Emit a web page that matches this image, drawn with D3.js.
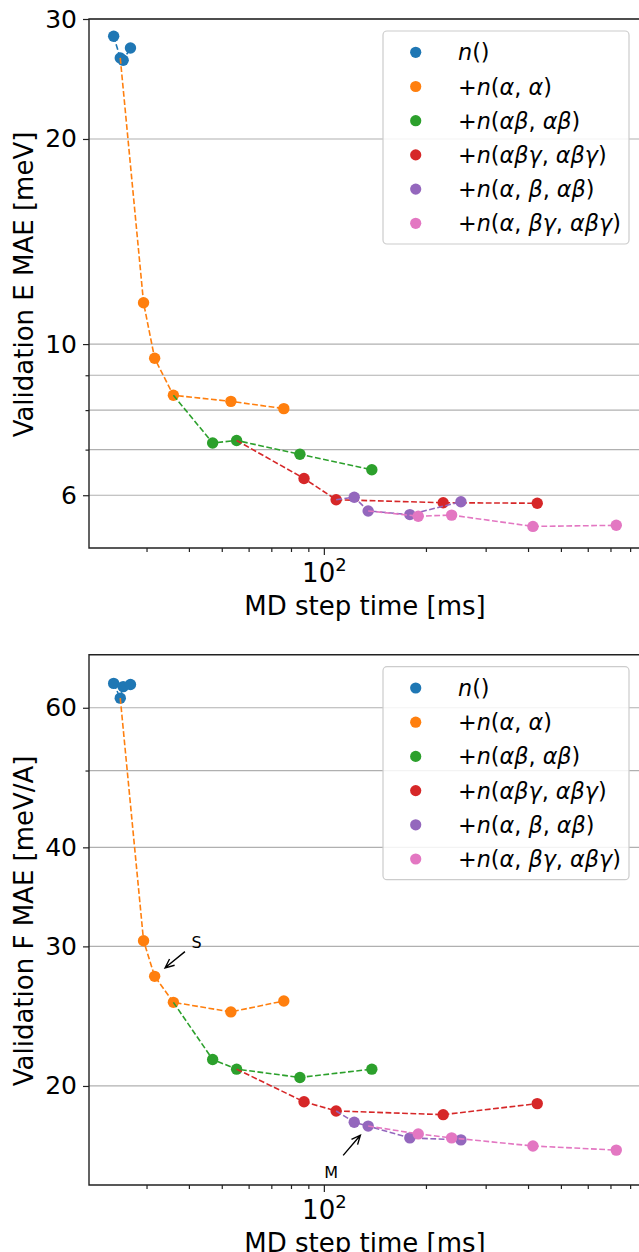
<!DOCTYPE html>
<html>
<head>
<meta charset="utf-8">
<script src="https://cdn.jsdelivr.net/npm/d3@7"></script>
<style>
  html, body { margin: 0; padding: 0; background: #fff; }
  svg { display: block; font-family: "DejaVu Sans", sans-serif; }
</style>
</head>
<body>
<svg id="chart" width="639" height="1252"></svg>
<script>
// ---------- data ----------
const seriesNames = ["n()", "+n(α, α)", "+n(αβ, αβ)", "+n(αβγ, αβγ)", "+n(α, β, αβ)", "+n(α, βγ, αβγ)"];
const seriesColors = ["#1f77b4", "#ff7f0e", "#2ca02c", "#d62728", "#9467bd", "#e377c2"];
// parent point each dashed line starts from: [series index, point index]
const seriesParents = [null, [0, 1], [1, 2], [2, 1], [3, 1], [4, 1]];

// MD step time [ms]
const timeN  = [24.0, 25.1, 25.6, 26.9];
const timeA  = [29.4, 31.7, 36.0, 53.2, 76.2];
const timeB  = [47.0, 55.3, 85.0, 138.5];
const timeC  = [87.4, 108.7, 224.8, 425.8];
const timeD  = [122.9, 135.1, 179.3, 253.6];
const timeE  = [189.8, 238.1, 413.5, 728.2];

// Validation E MAE [meV]
const energyN = [28.3, 26.3, 26.1, 27.2];
const energyA = [11.5, 9.53, 8.41, 8.24, 8.04];
const energyB = [7.16, 7.22, 6.89, 6.54];
const energyC = [6.35, 5.91, 5.85, 5.84];
const energyD = [5.96, 5.69, 5.62, 5.87];
const energyE = [5.59, 5.61, 5.40, 5.42];

// Validation F MAE [meV/A]
const forceN = [64.4, 61.7, 63.8, 64.2];
const forceA = [30.5, 27.5, 25.5, 24.8, 25.6];
const forceB = [21.6, 21.0, 20.5, 21.0];
const forceC = [19.1, 18.6, 18.4, 19.0];
const forceD = [18.0, 17.8, 17.2, 17.1];
const forceE = [17.4, 17.2, 16.8, 16.6];

const timeSeries = [timeN, timeA, timeB, timeC, timeD, timeE];
const energySeries = [energyN, energyA, energyB, energyC, energyD, energyE];
const forceSeries = [forceN, forceA, forceB, forceC, forceD, forceE];

// axis tick values
const xDomain = [20.3, 885];
const xMajorTicks = [100];
const xMinorTicks = [30, 40, 50, 60, 70, 80, 90, 200, 300, 400, 500, 600, 700, 800];

const eDomain = [5.02, 30];
const eLabeledTicks = [6, 10, 20, 30];
const eMinorTicks = [7, 8, 9];

const fDomain = [15.0, 70];
const fLabeledTicks = [20, 30, 40, 60];
const fMinorTicks = [50];

// annotations: [label, series index, point index, text dx, text dy, arrow start dx, dy, shrink]
const forceAnnotations = [
  ["S", 1, 1, 42, -33, 30.3, -24.7, 13.5],
  ["M", 4, 1, -37, 47, -25, 29.3, 12]
];

// ---------- drawing ----------
const svg = d3.select("#chart");
const left = 89, right = 645;

const x = d3.scaleLog().domain(xDomain).range([left, right]);

function mathLabel(sel, str) {
  for (const ch of str) {
    const it = "nαβγ".includes(ch);
    sel.append("tspan").attr("font-style", it ? "italic" : "normal").text(ch);
  }
}

function drawPanel(cfg) {
  const g = svg.append("g");
  const y = d3.scaleLog().domain(cfg.domain).range([cfg.bottom, cfg.top]);

  // grid
  const gridVals = cfg.labeled.concat(cfg.minor);
  g.append("g").selectAll("line").data(gridVals).join("line")
    .attr("x1", left).attr("x2", right)
    .attr("y1", d => y(d)).attr("y2", d => y(d))
    .attr("stroke", "#b0b0b0").attr("stroke-width", 1.2);

  // series
  const clipId = "clip" + Math.round(cfg.top);
  svg.append("clipPath").attr("id", clipId).append("rect")
    .attr("x", left).attr("y", cfg.top).attr("width", right - left).attr("height", cfg.bottom - cfg.top);
  const plot = g.append("g").attr("clip-path", `url(#${clipId})`);
  const line = d3.line().x(d => x(d[0])).y(d => y(d[1]));

  seriesNames.forEach((name, i) => {
    const pts = timeSeries[i].map((t, k) => [t, cfg.values[i][k]]);
    const par = seriesParents[i];
    const linePts = par ? [[timeSeries[par[0]][par[1]], cfg.values[par[0]][par[1]]]].concat(pts) : pts;
    plot.append("path").datum(linePts).attr("d", line)
      .attr("fill", "none").attr("stroke", seriesColors[i])
      .attr("stroke-width", 1.6).attr("stroke-dasharray", "5.8,2.5");
    plot.append("g").selectAll("circle").data(pts).join("circle")
      .attr("cx", d => x(d[0])).attr("cy", d => y(d[1])).attr("r", 5.7)
      .attr("fill", seriesColors[i]);
  });

  // y axis
  const yMajor = d3.axisLeft(y).tickValues(cfg.labeled).tickFormat(d3.format("d"))
    .tickSize(6).tickSizeOuter(0).tickPadding(6);
  const ya = g.append("g").attr("transform", `translate(${left},0)`).call(yMajor);
  ya.selectAll("text").attr("font-size", 25).attr("fill", "#000").attr("font-family", "DejaVu Sans");
  ya.select(".domain").remove();
  const yMinor = d3.axisLeft(y).tickValues(cfg.minor).tickFormat("").tickSize(3.5).tickSizeOuter(0);
  const ym = g.append("g").attr("transform", `translate(${left},0)`).call(yMinor);
  ym.select(".domain").remove();
  g.selectAll(".tick line").attr("stroke", "#222").attr("stroke-width", 1.2);

  // x axis
  const xMajor = d3.axisBottom(x).tickValues(xMajorTicks).tickFormat("").tickSize(7).tickSizeOuter(0);
  const xa = g.append("g").attr("transform", `translate(0,${cfg.bottom})`).call(xMajor);
  xa.select(".domain").remove();
  xa.selectAll(".tick").append("text")
    .attr("y", 33.5).attr("text-anchor", "middle").attr("fill", "#000")
    .attr("font-size", 26).attr("font-family", "DejaVu Sans")
    .each(function(d) {
      const t = d3.select(this);
      t.append("tspan").text("10");
      t.append("tspan").attr("dy", -11).attr("font-size", 18).text(String(Math.round(Math.log10(d))));
    });
  const xMinor = d3.axisBottom(x).tickValues(xMinorTicks).tickFormat("").tickSize(4).tickSizeOuter(0);
  const xm = g.append("g").attr("transform", `translate(0,${cfg.bottom})`).call(xMinor);
  xm.select(".domain").remove();
  g.selectAll(".tick line").attr("stroke", "#222").attr("stroke-width", 1.2);

  // spines
  g.append("path")
    .attr("d", `M${right},${cfg.top}H${left}V${cfg.bottom}H${right}`)
    .attr("fill", "none").attr("stroke", "#222").attr("stroke-width", 1.4);

  // axis labels
  g.append("text").attr("x", 365).attr("y", cfg.bottom + 67)
    .attr("text-anchor", "middle").attr("font-size", 26).attr("fill", "#000")
    .text("MD step time [ms]");
  g.append("text")
    .attr("transform", `translate(33,${(cfg.top + cfg.bottom) / 2 + 1}) rotate(-90)`)
    .attr("text-anchor", "middle").attr("font-size", 26).attr("fill", "#000")
    .text(cfg.ylabel);

  // legend
  const lg = g.append("g");
  const lTop = cfg.top + 12, rowH = 34.2;
  lg.append("rect").attr("x", 383).attr("y", lTop).attr("width", 246).attr("height", 213)
    .attr("rx", 4).attr("fill", "#fff").attr("fill-opacity", 0.85)
    .attr("stroke", "#cccccc").attr("stroke-width", 1.2);
  seriesNames.forEach((name, i) => {
    const cy = lTop + 21.3 + i * rowH;
    lg.append("circle").attr("cx", 415.7).attr("cy", cy).attr("r", 5.6).attr("fill", seriesColors[i]);
    const t = lg.append("text").attr("x", 458).attr("y", cy + 8).attr("font-size", 22.3).attr("fill", "#000");
    mathLabel(t, name);
  });

  // annotations
  (cfg.annotations || []).forEach(a => {
    const [label, si, pi, tdx, tdy, adx, ady, shrink] = a;
    const px = x(timeSeries[si][pi]), py = y(cfg.values[si][pi]);
    const len = Math.hypot(adx, ady);
    const ux = adx / len, uy = ady / len;
    const tx = px + ux * shrink, ty = py + uy * shrink;
    const sx = px + adx, sy = py + ady;
    const hl = 9, hw = 4;
    const bx = tx + ux * hl, by = ty + uy * hl;
    const nx = -uy, ny = ux;
    g.append("path")
      .attr("d", `M${sx},${sy}L${tx},${ty}M${bx + nx * hw},${by + ny * hw}L${tx},${ty}L${bx - nx * hw},${by - ny * hw}`)
      .attr("fill", "none").attr("stroke", "#000").attr("stroke-width", 1.4);
    g.append("text").attr("x", px + tdx).attr("y", py + tdy)
      .attr("text-anchor", "middle").attr("dominant-baseline", "middle")
      .attr("font-size", 16).attr("fill", "#000").text(label);
  });
}

drawPanel({ top: 19, bottom: 548, domain: eDomain, labeled: eLabeledTicks, minor: eMinorTicks,
  values: energySeries, ylabel: "Validation E MAE [meV]" });
drawPanel({ top: 654.7, bottom: 1185, domain: fDomain, labeled: fLabeledTicks, minor: fMinorTicks,
  values: forceSeries, ylabel: "Validation F MAE [meV/A]", annotations: forceAnnotations });
</script>
</body>
</html>
